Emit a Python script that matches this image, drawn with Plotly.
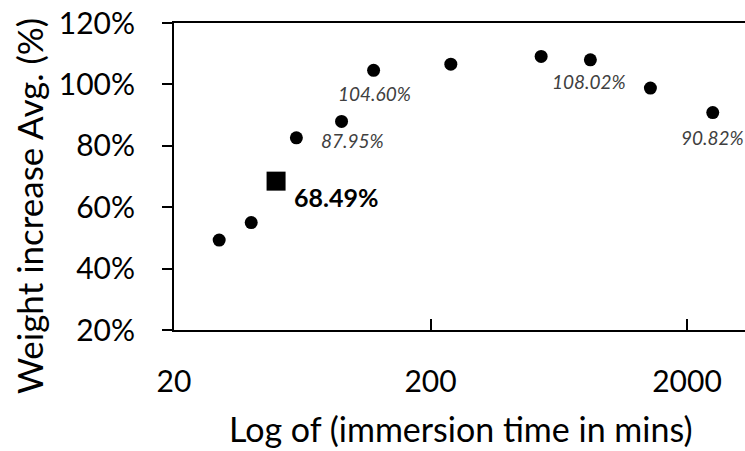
import numpy as np
import plotly.graph_objects as go

# Data
time_mins = [30, 40, 60, 90, 120, 240, 540, 840, 1440, 2520]
weight_pct = [49.3, 55.0, 82.6, 87.95, 104.60, 106.6, 109.1, 108.02, 98.8, 90.82]
hl_time = [50]
hl_weight = [68.49]
y_ticks = [20, 40, 60, 80, 100, 120]
x_ticks = [20, 200, 2000]

# labelled points: (time, value, text, xshift, yshift)
italic_labels = [(90, 87.95, "87.95%", 11, -19),
                 (120, 104.60, "104.60%", 1, -23),
                 (840, 108.02, "108.02%", -1, -22),
                 (2520, 90.82, "90.82%", 0, -25)]

W, H = 745, 451
L, R, T, B = 174, 0, 23, 121
pw, ph = W - L - R, H - T - B
FONT = "Lato"

fig = go.Figure()
fig.add_trace(go.Scatter(x=time_mins, y=weight_pct, mode="markers",
                         marker=dict(symbol="circle", size=13, color="black"),
                         showlegend=False, cliponaxis=False))
fig.add_trace(go.Scatter(x=hl_time, y=hl_weight, mode="markers",
                         marker=dict(symbol="square", size=19, color="black"),
                         showlegend=False, cliponaxis=False))

x0 = np.log10(20)
x1 = x0 + pw / 256.5

fig.update_xaxes(type="log", range=[x0, x1], tickvals=x_ticks,
                 ticktext=[str(v) for v in x_ticks],
                 ticks="inside", ticklen=11, tickwidth=2, tickcolor="black",
                 showline=True, linecolor="black", linewidth=2, mirror=True,
                 showgrid=False, zeroline=False,
                 tickfont=dict(family=FONT, size=30, color="black"),
                 ticklabelstandoff=24)
fig.update_yaxes(range=[20, 120], tickvals=y_ticks,
                 ticktext=[f"{v}%" for v in y_ticks],
                 ticks="outside", ticklen=10, tickwidth=2, tickcolor="black",
                 showline=True, linecolor="black", linewidth=2,
                 showgrid=False, zeroline=False,
                 tickfont=dict(family=FONT, size=30, color="black"),
                 ticklabelstandoff=21)

for tx, ty, txt, dx, dy in italic_labels:
    fig.add_annotation(x=np.log10(tx), y=ty, text=f"<i>{txt}</i>", showarrow=False,
                       xshift=dx, yshift=dy, xanchor="center", yanchor="middle",
                       font=dict(family=FONT, size=19, color="#404040"))

fig.add_annotation(x=np.log10(hl_time[0]), y=hl_weight[0], text=f"<b>{hl_weight[0]:.2f}%</b>",
                   showarrow=False, xshift=16, yshift=-16, xanchor="left", yanchor="middle",
                   font=dict(family=FONT, size=25, color="black"))

fig.add_annotation(xref="paper", yref="paper", x=(460 - L) / pw, y=(H - B - 428) / ph,
                   text="Log of (immersion time in mins)", showarrow=False,
                   xanchor="center", yanchor="middle",
                   font=dict(family=FONT, size=34, color="black"))
fig.add_annotation(xref="paper", yref="paper", x=(29 - L) / pw, y=(H - B - 206) / ph,
                   text="Weight increase Avg. (%)", showarrow=False, textangle=-90,
                   xanchor="center", yanchor="middle",
                   font=dict(family=FONT, size=35, color="black"))

fig.update_layout(width=W, height=H, margin=dict(l=L, r=R, t=T, b=B),
                  plot_bgcolor="white", paper_bgcolor="white")

fig.write_html("out.html")
